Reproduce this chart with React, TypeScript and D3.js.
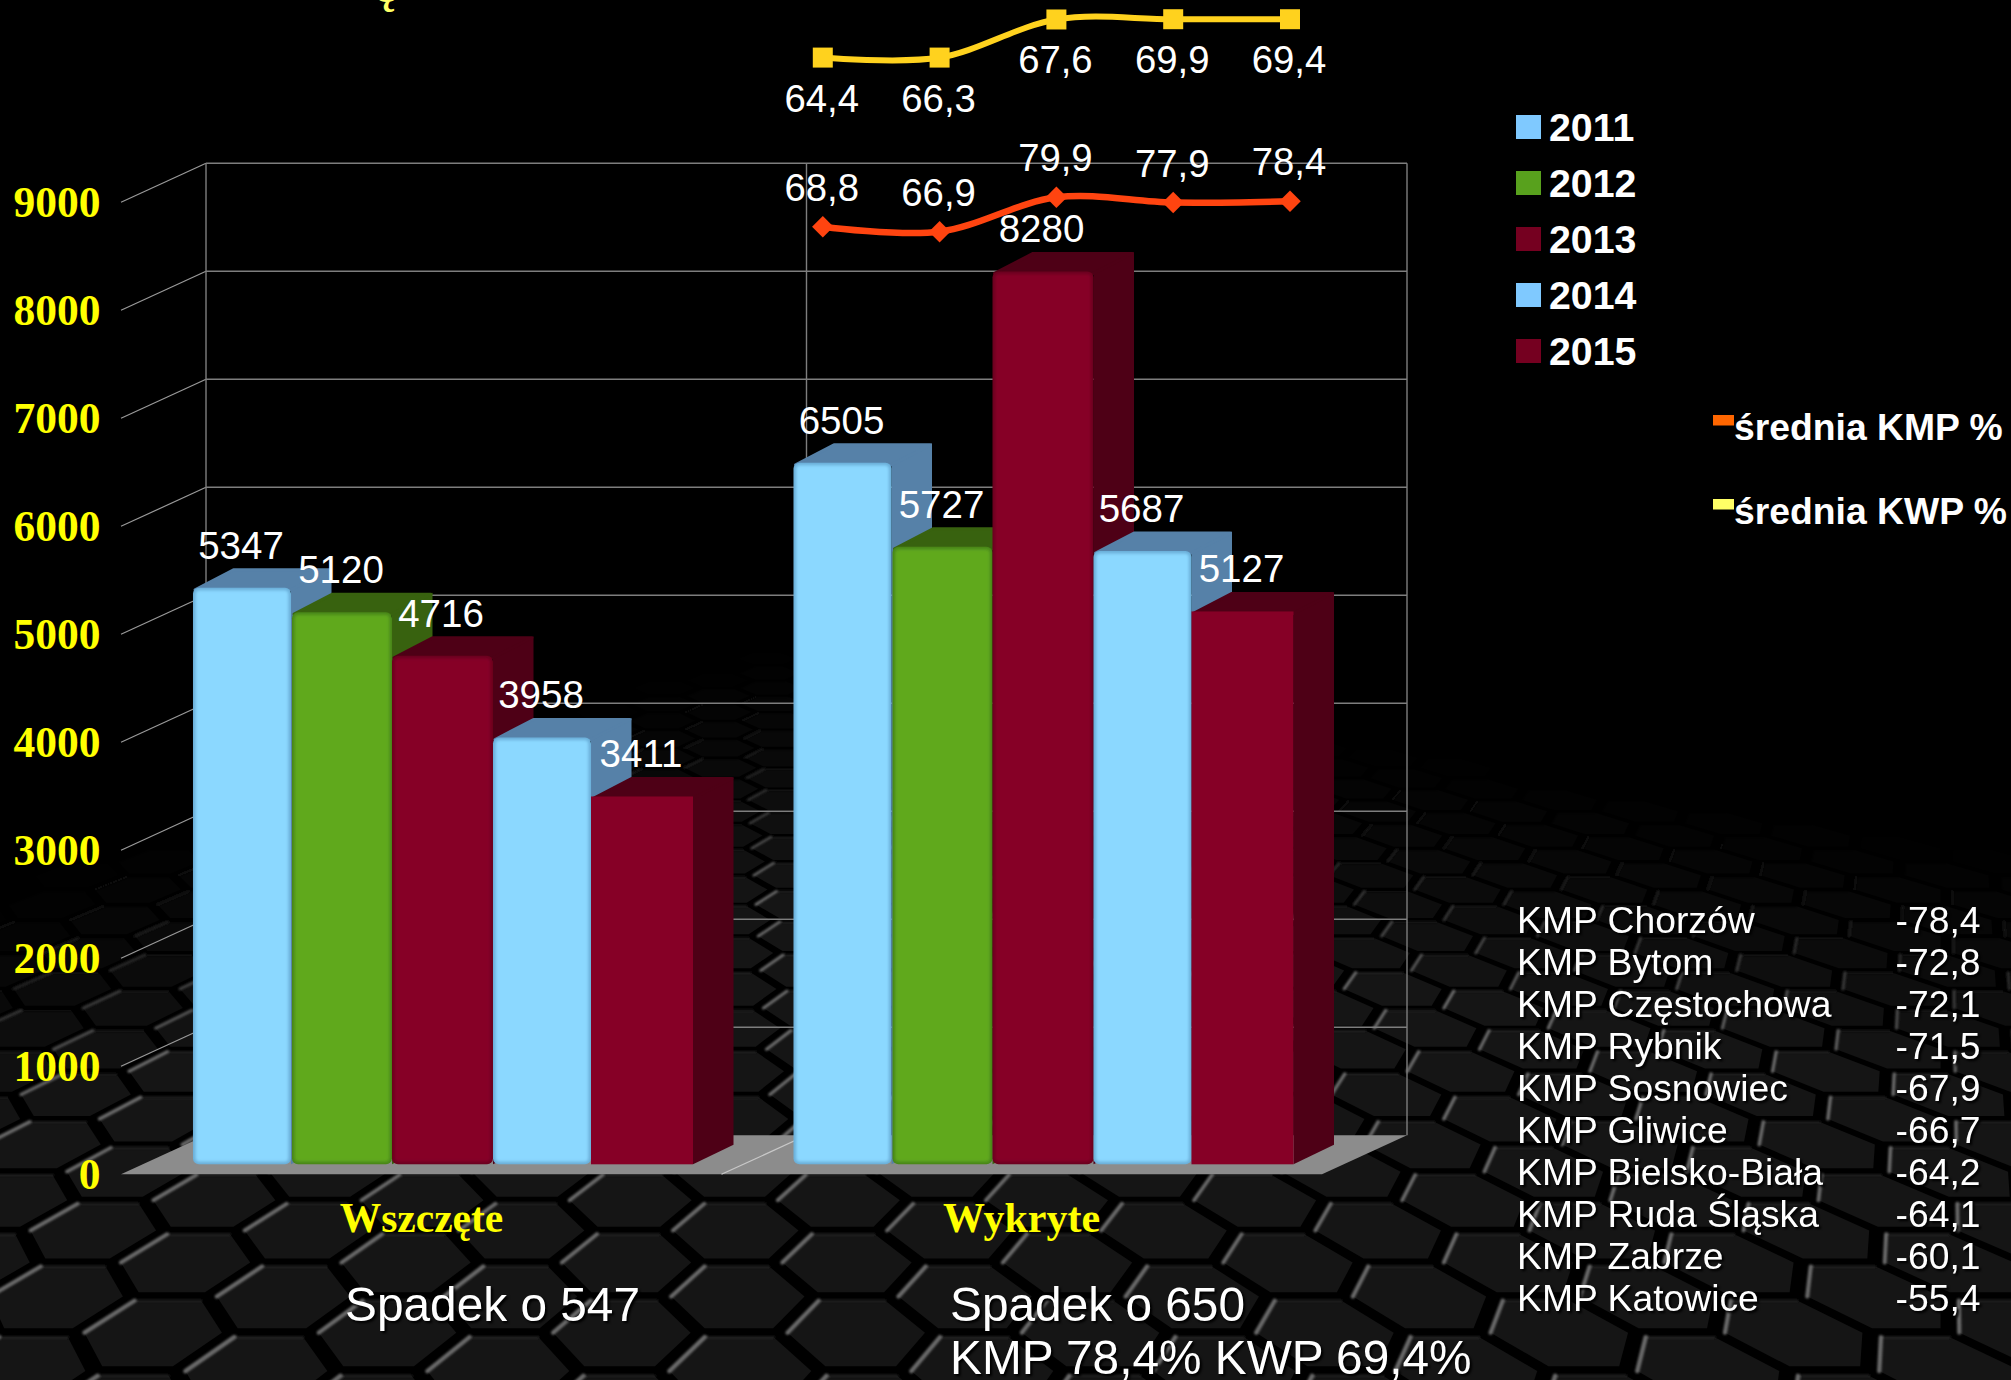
import React, { useMemo } from 'react';
import * as d3 from 'd3';

const categories = ['Wszczęte', 'Wykryte'];
const years = ['2011', '2012', '2013', '2014', '2015'];
const wszczete = [5347, 5120, 4716, 3958, 3411];
const wykryte = [6505, 5727, 8280, 5687, 5127];
const groups = [wszczete, wykryte];
const axisTicks = [0, 1000, 2000, 3000, 4000, 5000, 6000, 7000, 8000, 9000];

const kmpLabels = ['68,8', '66,9', '79,9', '77,9', '78,4'];
const kmpValues = [68.8, 66.9, 79.9, 77.9, 78.4];
const kwpLabels = ['64,4', '66,3', '67,6', '69,9', '69,4'];
// the yellow line's drawn height does not follow its printed labels: these are its heights read on the orange line's scale
const kwpHeights = [132.7, 132.7, 147.1, 147.2, 147.2];

const tableNames = ['KMP Chorzów', 'KMP Bytom', 'KMP Częstochowa', 'KMP Rybnik', 'KMP Sosnowiec', 'KMP Gliwice', 'KMP Bielsko-Biała', 'KMP Ruda Śląska', 'KMP Zabrze', 'KMP Katowice'];
const tableValues = ['-78,4', '-72,8', '-72,1', '-71,5', '-67,9', '-66,7', '-64,2', '-64,1', '-60,1', '-55,4'];

const barFront = ['#8bd8ff', '#60a91f', '#860026', '#8bd8ff', '#860026'];
const barEdge = ['#6aaed8', '#47851a', '#6a001e', '#6aaed8', '#860026'];
const barShade = ['#5681a8', '#38620f', '#4e0016', '#5681a8', '#4e0016'];
const legendColors = ['#7fc9ff', '#58a11d', '#750020', '#7fc9ff', '#750020'];

const SANS = '"Liberation Sans", Arial, sans-serif';
const SERIF = '"Liberation Serif", "Times New Roman", serif';

const frontLeft = 121;
const frontRight = 1322;
const floorFrontY = 1174.3;
const depthX = 85;
const depthY = -39;
const barDepthX = 40.5;
const barDepthY = -19.5;
// the blue columns are drawn a little narrower than the others
const leftShift = [0, -1, -1, 0, -2];
const rightShift = [-2, -1, 0, -2, 0];

const yFront = d3.scaleLinear().domain([0, 9000]).range([floorFrontY, floorFrontY - 972]);
const yBar = d3.scaleLinear().domain([0, 9000]).range([1164.3, 1164.3 - 970.5]);
const xGroup = d3.scaleBand().domain(categories).range([frontLeft, frontRight]);
const xSeries = d3.scaleBand().domain(years).range([72, 572]);
const xLine = d3.scalePoint().domain(years).range([822.8, 1290]);
const yLine = d3.scaleLinear().domain([66.9, 79.9]).range([231.7, 197.3]);
const lineGen = d3
  .line<number>()
  .x((_, i) => xLine(years[i]) as number)
  .y((v) => yLine(v))
  .curve(d3.curveCardinal.tension(0));

function hexes() {
  const xc = 700;
  const yh = 149;
  const s = 0.066;
  const k = 0.88;
  const dv = 2.66e-5;
  const v0 = 1 / (1175 - yh);
  const out: { pts: string; left: string; top: string; fill: string; lc: string; tc: string; w: number }[] = [];
  const P = (u: number, v: number): [number, number] => {
    const d = 1 / v;
    return [xc + u * d, yh + d];
  };
  for (let n = -7; n <= 38; n++) {
    const vTop = v0 + n * dv;
    const vc = vTop - dv * k;
    for (let c = -24; c <= 24; c++) {
      const uc = -0.066 + c * 0.198 + (Math.abs(n) % 2 ? 0.099 : 0);
      const cp = P(uc, vc);
      if (cp[0] < -150 || cp[0] > 2160) continue;
      const dx = cp[0] - 760;
      const fade = (cp[1] - 650 - (dx < 0 ? -dx * 0.32 : dx * 0.16)) / 240;
      const f = Math.max(0, Math.min(1, fade));
      if (f <= 0.02) continue;
      const L = P(uc - s * k, vc);
      const TL = P(uc - (s * k) / 2, vc + dv * k);
      const TR = P(uc + (s * k) / 2, vc + dv * k);
      const R = P(uc + s * k, vc);
      const BR = P(uc + (s * k) / 2, vc - dv * k);
      const BL = P(uc - (s * k) / 2, vc - dv * k);
      const g = (x: number) => {
        const q = Math.round(x);
        return `rgb(${q},${q},${q})`;
      };
      const soft = Math.pow(f, 1.5);
      out.push({
        pts: [L, TL, TR, R, BR, BL].map((p) => p.join(',')).join(' '),
        left: `M${L.join(',')}L${TL.join(',')}`,
        top: `M${TL.join(',')}L${TR.join(',')}`,
        fill: g(21 * f),
        lc: g(105 * soft),
        tc: g(21 * f + 11 * soft),
        w: (1 / vc) * 0.0036,
      });
    }
  }
  return out;
}

function Background() {
  const cells = useMemo(hexes, []);
  return (
    <g>
      <g>
        {cells.map((c, i) => (
          <polygon key={i} points={c.pts} fill={c.fill} />
        ))}
      </g>
      <g filter="url(#hexSoft)" fill="none" strokeLinecap="round">
        {cells.map((c, i) => (
          <g key={i}>
            <path d={c.top} stroke={c.tc} strokeWidth={c.w * 0.5} />
            <path d={c.left} stroke={c.lc} strokeWidth={c.w} />
          </g>
        ))}
      </g>
    </g>
  );
}

function Walls() {
  const backLeft = frontLeft + depthX;
  const backRight = frontRight + depthX;
  const mid = xGroup(categories[1]) as number;
  const floorBack = floorFrontY + depthY;
  return (
    <g>
      <polygon
        points={`${frontLeft},${floorFrontY} ${frontRight},${floorFrontY} ${backRight},${floorBack} ${backLeft},${floorBack}`}
        fill="#8c8c8c"
      />
      <line x1={mid} y1={floorFrontY} x2={mid + depthX} y2={floorBack} stroke="#c8c8c8" strokeWidth={1.2} />
      {axisTicks.slice(1).map((t) => (
        <g key={t}>
          <line x1={frontLeft} y1={yFront(t)} x2={backLeft} y2={yFront(t) + depthY} stroke="#9a9a9a" strokeWidth={1.2} />
          <line x1={backLeft} y1={yFront(t) + depthY} x2={backRight} y2={yFront(t) + depthY} stroke="#7e7e7e" strokeWidth={1.6} />
        </g>
      ))}
      {[backLeft, mid + depthX, backRight].map((x) => (
        <line key={x} x1={x} x2={x} y1={yFront(9000) + depthY} y2={floorBack} stroke="#7e7e7e" strokeWidth={1.4} />
      ))}
    </g>
  );
}

function Bar({ x, w, value, s }: { x: number; w: number; value: number; s: number }) {
  const top = yBar(value);
  const bottom = yBar(0);
  const r = x + w;
  const bevel = barEdge[s] !== barFront[s];
  return (
    <g>
      <polygon
        points={`${r},${top} ${r + barDepthX},${top + barDepthY} ${r + barDepthX},${bottom + barDepthY} ${r},${bottom}`}
        fill={barShade[s]}
      />
      <polygon
        points={`${x + 2},${top + 2} ${x + barDepthX},${top + barDepthY + 1.5} ${r + barDepthX - 1.5},${top + barDepthY + 1.5} ${r},${top + 2}`}
        fill={barShade[s]}
        stroke={barShade[s]}
        strokeWidth={3}
        strokeLinejoin="round"
      />
      {bevel ? (
        <g>
          <rect x={x} y={top} width={w} height={bottom - top} rx={6} fill={barEdge[s]} />
          <rect x={x + 2.5} y={top + 2.5} width={w - 5} height={bottom - top - 5} rx={4} fill={barFront[s]} filter="url(#barSoft)" />
        </g>
      ) : (
        <rect x={x} y={top} width={w} height={bottom - top} fill={barFront[s]} />
      )}
    </g>
  );
}

export default function App() {
  const w = xSeries.bandwidth();
  const shadow = { filter: 'drop-shadow(2px 2px 1px #000)' };
  return (
    <svg
      width={2011}
      height={1380}
      viewBox="0 0 2011 1380"
      style={{ position: 'absolute', left: 0, top: 0, display: 'block', background: '#000' }}
    >
      <defs>
        <filter id="barSoft" x="-10%" y="-5%" width="120%" height="110%">
          <feGaussianBlur stdDeviation="1.6" />
        </filter>
        <filter id="hexSoft" x="0" y="0" width="100%" height="100%">
          <feGaussianBlur stdDeviation="1" />
        </filter>
      </defs>
      <Background />
      <Walls />

      {axisTicks.map((t) => (
        <text key={t} x={100.5} y={yFront(t) + 15} textAnchor="end" fontFamily={SERIF} fontWeight="bold" fontSize={43.5} fill="#ffff00">
          {t}
        </text>
      ))}

      {groups.map((vals, g) => {
        const gx = xGroup(categories[g]) as number;
        return (
          <g key={g}>
            {vals.map((v, s) => (
              <Bar
                key={s}
                x={gx + (xSeries(years[s]) as number) + leftShift[s]}
                w={w - leftShift[s] + rightShift[s]}
                value={v}
                s={s}
              />
            ))}
          </g>
        );
      })}

      {groups.map((vals, g) => {
        const gx = xGroup(categories[g]) as number;
        return vals.map((v, s) => (
          <text
            key={`${g}-${s}`}
            x={gx + (xSeries(years[s]) as number) + w / 2 - 2}
            y={yBar(v) - 29}
            textAnchor="middle"
            fontFamily={SANS}
            fontSize={38.5}
            fill="#fff"
          >
            {v}
          </text>
        ));
      })}

      <path d={lineGen(kwpHeights) as string} fill="none" stroke="#ffd21e" strokeWidth={6} />
      <path d={lineGen(kmpValues) as string} fill="none" stroke="#ff4410" strokeWidth={6.5} />
      {kwpHeights.map((v, i) => (
        <g key={i}>
          <path
            d={d3.symbol(d3.symbolSquare, 400)() as string}
            transform={`translate(${xLine(years[i])},${yLine(v)})`}
            fill="#ffd21e"
          />
          <text x={(xLine(years[i]) as number) - 1} y={yLine(v) + 54} textAnchor="middle" fontFamily={SANS} fontSize={38.3} fill="#fff">
            {kwpLabels[i]}
          </text>
        </g>
      ))}
      {kmpValues.map((v, i) => (
        <g key={i}>
          <path
            d={d3.symbol(d3.symbolSquare, 230)() as string}
            transform={`translate(${xLine(years[i])},${yLine(v)}) rotate(45)`}
            fill="#ff4410"
          />
          <text x={(xLine(years[i]) as number) - 1} y={yLine(v) - 26} textAnchor="middle" fontFamily={SANS} fontSize={38.3} fill="#fff">
            {kmpLabels[i]}
          </text>
        </g>
      ))}

      <text x={385} y={2} textAnchor="middle" fontFamily={SERIF} fontWeight="bold" fontSize={48} fill="#ffff66">
        ę
      </text>

      <text x={421.5} y={1231.5} textAnchor="middle" fontFamily={SERIF} fontWeight="bold" fontSize={41.5} fill="#ffff00">
        {categories[0]}
      </text>
      <text x={1021.5} y={1231.5} textAnchor="middle" fontFamily={SERIF} fontWeight="bold" fontSize={42} fill="#ffff00">
        {categories[1]}
      </text>

      <g fontFamily={SANS} fontSize={47.8} fill="#fff" style={shadow}>
        <text x={345} y={1321}>Spadek o 547</text>
        <text x={950} y={1321}>Spadek o 650</text>
        <text x={950} y={1373.5}>KMP 78,4% KWP 69,4%</text>
      </g>

      {years.map((y, i) => (
        <g key={y}>
          <rect x={1516} y={115 + 56 * i} width={25} height={24} fill={legendColors[i]} />
          <text x={1549} y={141 + 56 * i} fontFamily={SANS} fontWeight="bold" fontSize={39.3} fill="#fff">
            {y}
          </text>
        </g>
      ))}
      <rect x={1713} y={415} width={21} height={10.5} fill="#ff6600" />
      <rect x={1713} y={499} width={21} height={10.5} fill="#ffff66" />
      <g fontFamily={SANS} fontWeight="bold" fontSize={37.3} fill="#fff">
        <text x={1734} y={440}>średnia KMP %</text>
        <text x={1734} y={524}>średnia KWP %</text>
      </g>

      <g fontFamily={SANS} fontSize={37.3} fill="#fff" style={shadow}>
        {tableNames.map((n, i) => (
          <g key={n}>
            <text x={1517} y={932.7 + 42 * i}>{n}</text>
            <text x={1895.5} y={932.7 + 42 * i}>{tableValues[i]}</text>
          </g>
        ))}
      </g>
    </svg>
  );
}
